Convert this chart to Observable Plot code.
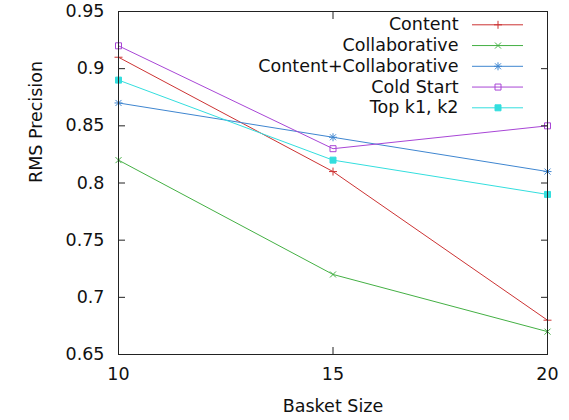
<!DOCTYPE html>
<html>
<head>
<meta charset="utf-8">
<script src="https://cdn.jsdelivr.net/npm/d3@7"></script>
<script src="https://cdn.jsdelivr.net/npm/@observablehq/plot@0.6"></script>
<style>
  html, body { margin: 0; padding: 0; background: #fff; }
  #chart { width: 569px; height: 420px; }
</style>
</head>
<body>
<div id="chart"></div>
<script>
// ---- data ----
const basketSizes = [10, 15, 20];
const seriesNames = ["Content", "Collaborative", "Content+Collaborative", "Cold Start", "Top k1, k2"];
const contentVals = [0.91, 0.81, 0.68];
const collaborativeVals = [0.82, 0.72, 0.67];
const contentCollabVals = [0.87, 0.84, 0.81];
const coldStartVals = [0.92, 0.83, 0.85];
const topK1K2Vals = [0.89, 0.82, 0.79];
const xTicks = [10, 15, 20];
const yTicks = [0.65, 0.7, 0.75, 0.8, 0.85, 0.9, 0.95];
const xDomain = [10, 20];
const yDomain = [0.65, 0.95];
const xLabel = "Basket Size";
const yLabel = "RMS Precision";

// ---- styles ----
const colors = ["#cc3333", "#44b044", "#3f86d0", "#a846d6", "#33dede"];
const fontFamily = "DejaVu Sans, Verdana, sans-serif";

// custom gnuplot-like symbols (size = pi r^2)
const symPlus = {draw(c, size) { const r = Math.sqrt(size / Math.PI); c.moveTo(-r, 0); c.lineTo(r, 0); c.moveTo(0, -r); c.lineTo(0, r); }};
const symTimes = {draw(c, size) { const r = Math.sqrt(size / Math.PI) * 0.75; c.moveTo(-r, -r); c.lineTo(r, r); c.moveTo(-r, r); c.lineTo(r, -r); }};
const symStar = {draw(c, size) { const r = Math.sqrt(size / Math.PI); const q = r * 0.75; c.moveTo(-r, 0); c.lineTo(r, 0); c.moveTo(0, -r); c.lineTo(0, r); c.moveTo(-q, -q); c.lineTo(q, q); c.moveTo(-q, q); c.lineTo(q, -q); }};
const symSquare = {draw(c, size) { const r = Math.sqrt(size / Math.PI) * 0.75; c.moveTo(-r, -r); c.lineTo(r, -r); c.lineTo(r, r); c.lineTo(-r, r); c.closePath(); }};
const symbols = [symPlus, symTimes, symStar, symSquare, symSquare];
const filled = [false, false, false, false, true];

const allVals = [contentVals, collaborativeVals, contentCollabVals, coldStartVals, topK1K2Vals];
const rows = [];
allVals.forEach((vals, si) => vals.forEach((v, i) => rows.push({series: seriesNames[si], si, x: basketSizes[i], y: v})));

const marginLeft = 118, marginRight = 22, marginTop = 11, marginBottom = 66;
const W = 569, H = 420;

const marks = [];
// series lines and markers
seriesNames.forEach((name, si) => {
  const d = rows.filter(r => r.si === si);
  marks.push(Plot.line(d, {x: "x", y: "y", stroke: colors[si], strokeWidth: 1}));
  marks.push(Plot.dot(d, {x: "x", y: "y", symbol: () => symbols[si], r: 4,
    stroke: colors[si], fill: filled[si] ? colors[si] : "none", strokeWidth: 1}));
});

// legend (top-right inside frame)
const legendTextX = 458 - (W - marginRight);
const legendLineInsetLeft = 472 - marginLeft;
const legendLineInsetRight = (W - marginRight) - 523;
const legendMarkX = (472 + 523) / 2 - (W - marginRight);
seriesNames.forEach((name, si) => {
  const dy = 24.3 + si * 20.75 - marginTop;
  marks.push(Plot.text([name], {text: d => d, frameAnchor: "top-right", textAnchor: "end",
    dx: legendTextX, dy: dy, fontSize: 17.5, fill: "#111", lineAnchor: "middle"}));
  marks.push(Plot.tickY([yDomain[1]], {y: d => d, dy: dy, stroke: colors[si], strokeWidth: 1,
    insetLeft: legendLineInsetLeft, insetRight: legendLineInsetRight}));
  marks.push(Plot.dot([name], {frameAnchor: "top-right", dx: legendMarkX, dy: dy,
    symbol: () => symbols[si], r: 4, stroke: colors[si], fill: filled[si] ? colors[si] : "none", strokeWidth: 1}));
});

// frame
marks.push(Plot.frame({stroke: "#222", strokeWidth: 1}));
// inward ticks on all four sides
marks.push(Plot.axisY(yTicks, {anchor: "left", label: null, tickSize: -7, tickFormat: () => "", stroke: "#222"}));
marks.push(Plot.axisY(yTicks, {anchor: "right", label: null, tickSize: -7, tickFormat: () => "", stroke: "#222"}));
marks.push(Plot.axisX(xTicks, {anchor: "bottom", label: null, tickSize: -7, tickFormat: () => "", stroke: "#222"}));
marks.push(Plot.axisX(xTicks, {anchor: "top", label: null, tickSize: -7, tickFormat: () => "", stroke: "#222"}));
// tick labels
marks.push(Plot.axisY(yTicks, {anchor: "left", label: null, tickSize: 0, tickPadding: 14, tickFormat: d => String(d), fontSize: 17.5, fill: "#111"}));
marks.push(Plot.axisX(xTicks, {anchor: "bottom", label: null, tickSize: 0, tickPadding: 13, tickFormat: d => String(d), fontSize: 17.5, fill: "#111"}));
// axis titles
marks.push(Plot.text([xLabel], {text: d => d, frameAnchor: "bottom", dy: 52, fontSize: 17.5, fill: "#111", lineAnchor: "middle"}));
marks.push(Plot.text([yLabel], {text: d => d, frameAnchor: "left", dx: 36 - marginLeft, rotate: -90, fontSize: 17.5, fill: "#111", lineAnchor: "middle"}));

const chart = Plot.plot({
  width: W, height: H,
  marginLeft, marginRight, marginTop, marginBottom,
  style: {fontFamily, background: "#fff", color: "#111"},
  x: {domain: xDomain, axis: null},
  y: {domain: yDomain, axis: null},
  marks
});
document.getElementById("chart").appendChild(chart);
</script>
</body>
</html>
